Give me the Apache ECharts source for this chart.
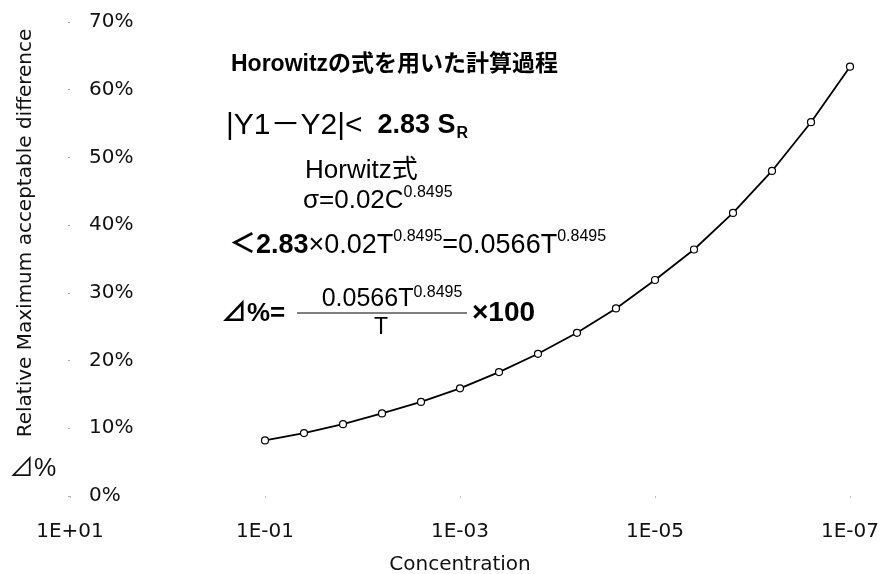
<!DOCTYPE html>
<html lang="ja">
<head>
    <meta charset="UTF-8">
    <title>Horowitz Relative Maximum acceptable difference</title>
    <script src="https://cdn.jsdelivr.net/npm/echarts@6/dist/echarts.min.js"></script>
    <style>
        html, body { margin: 0; padding: 0; background: #fff; }
        #chart { width: 886px; height: 574px; }
    </style>
</head>
<body>
<div id="chart"></div>
<script type="text/javascript">
    // 濃度（log10 の指数）と許容差（%）
    var concExp = [-1, -1.4, -1.8, -2.2, -2.6, -3, -3.4, -3.8, -4.2, -4.6, -5, -5.4, -5.8, -6.2, -6.6, -7];
    var diffPct = [8.2, 9.3, 10.6, 12.2, 13.9, 15.9, 18.3, 21.0, 24.1, 27.7, 31.9, 36.4, 41.8, 48.0, 55.2, 63.4];
    var xTickExp = [1, -1, -3, -5, -7];
    var xTickLabels = ['1E+01', '1E-01', '1E-03', '1E-05', '1E-07'];

    var seriesData = concExp.map(function (e, i) { return [e, diffPct[i]]; });

    var latin = 'Liberation Sans, Arial, Noto Sans CJK JP, sans-serif';
    var cjk = 'Liberation Sans, Noto Sans CJK JP, sans-serif';

    var chart = echarts.init(document.getElementById('chart'));

    chart.setOption({
        backgroundColor: '#fff',
        animation: false,
        grid: { left: 70, right: 36, top: 22, bottom: 78, outerBoundsMode: 'none' },
        xAxis: {
            type: 'value',
            inverse: true,
            min: -7,
            max: 1,
            interval: 2,
            name: 'Concentration',
            nameLocation: 'middle',
            nameGap: 59,
            nameTextStyle: { fontFamily: 'DejaVu Sans', fontSize: 20, color: '#111' },
            axisLine: { show: false, onZero: false },
            axisTick: { show: true, length: 2, lineStyle: { color: '#bbb' } },
            splitLine: { show: false },
            axisLabel: {
                margin: 26,
                fontFamily: 'DejaVu Sans',
                fontSize: 20,
                color: '#111',
                formatter: function (v) {
                    var i = xTickExp.indexOf(Math.round(v));
                    return i >= 0 ? xTickLabels[i] : '';
                }
            }
        },
        yAxis: {
            type: 'value',
            min: 0,
            max: 70,
            interval: 10,
            name: 'Relative Maximum acceptable difference',
            nameLocation: 'middle',
            nameRotate: 90,
            nameGap: 34,
            nameTextStyle: { fontFamily: 'DejaVu Sans', fontSize: 20, color: '#111', padding: [0, 0, 0, 52] },
            axisLine: { show: false, onZero: false },
            axisTick: { show: true, length: 2, lineStyle: { color: '#aaa' } },
            splitLine: { show: false },
            axisLabel: {
                inside: true,
                margin: 19,
                fontFamily: 'DejaVu Sans',
                fontSize: 20,
                color: '#111',
                formatter: '{value}%'
            }
        },
        series: [{
            type: 'line',
            data: seriesData,
            symbol: 'circle',
            symbolSize: 7,
            showAllSymbol: true,
            lineStyle: { color: '#000', width: 1.8 },
            itemStyle: { color: '#fff', borderColor: '#000', borderWidth: 1.2 }
        }],
        graphic: [
            { type: 'text', left: 9, top: 457,
              style: { text: '⊿%', font: '25px ' + cjk, fill: '#111' } },
            { type: 'text', x: 231, y: 65,
              style: { text: 'Horowitzの式を用いた計算過程', font: 'bold 23px ' + cjk, fill: '#000', verticalAlign: 'middle' } },
            { type: 'text', x: 226, y: 126,
              style: {
                  text: '{n||Y1－Y2|<}{b|  2.83 S}{sub|R}',
                  verticalAlign: 'middle',
                  rich: {
                      n: { font: '30px ' + cjk, fill: '#000', lineHeight: 38 },
                      b: { font: 'bold 27px ' + latin, fill: '#000', lineHeight: 38 },
                      sub: { font: 'bold 16px ' + latin, fill: '#000', lineHeight: 38, verticalAlign: 'bottom', padding: [0, 0, 3, 1] }
                  }
              } },
            { type: 'text', x: 305, y: 171,
              style: { text: 'Horwitz式', font: '26px ' + cjk, fill: '#000', verticalAlign: 'middle' } },
            { type: 'text', x: 303, y: 201,
              style: {
                  text: '{n|σ=0.02C}{sup|0.8495}',
                  verticalAlign: 'middle',
                  rich: {
                      n: { font: '26px ' + cjk, fill: '#000', lineHeight: 32 },
                      sup: { font: '16px ' + latin, fill: '#000', lineHeight: 32, verticalAlign: 'top' }
                  }
              } },
            { type: 'text', x: 229, y: 246,
              style: {
                  text: '{b|＜2.83}{n|×0.02T}{sup|0.8495}{n|=0.0566T}{sup|0.8495}',
                  verticalAlign: 'middle',
                  rich: {
                      b: { font: 'bold 27px ' + cjk, fill: '#000', lineHeight: 34 },
                      n: { font: '27px ' + cjk, fill: '#000', lineHeight: 34 },
                      sup: { font: '16px ' + latin, fill: '#000', lineHeight: 34, verticalAlign: 'top' }
                  }
              } },
            { type: 'text', x: 221, y: 314,
              style: { text: '⊿%=', font: 'bold 26px ' + cjk, fill: '#000', verticalAlign: 'middle' } },
            { type: 'text', x: 392, y: 299,
              style: {
                  text: '{n|0.0566T}{sup|0.8495}',
                  align: 'center',
                  verticalAlign: 'middle',
                  rich: {
                      n: { font: '25px ' + latin, fill: '#000', lineHeight: 28 },
                      sup: { font: '16px ' + latin, fill: '#000', lineHeight: 28, verticalAlign: 'top' }
                  }
              } },
            { type: 'line', shape: { x1: 297, y1: 313, x2: 467, y2: 313 },
              style: { stroke: '#000', lineWidth: 1 } },
            { type: 'text', x: 381, y: 328,
              style: { text: 'T', font: '23px ' + latin, fill: '#000', align: 'center', verticalAlign: 'middle' } },
            { type: 'text', x: 472, y: 313,
              style: { text: '×100', font: 'bold 28px ' + latin, fill: '#000', verticalAlign: 'middle' } }
        ]
    });
</script>
</body>
</html>
